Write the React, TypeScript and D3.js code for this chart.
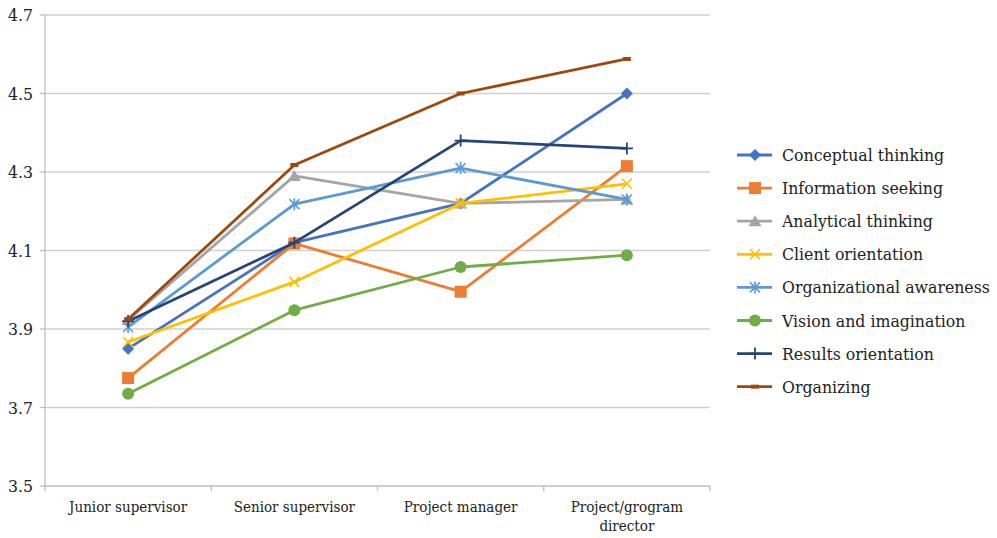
import React from "react";
import * as d3 from "d3";

const categories = ["Junior supervisor", "Senior supervisor", "Project manager", "Project/grogram director"];
const seriesNames = [
  "Conceptual thinking",
  "Information seeking",
  "Analytical thinking",
  "Client orientation",
  "Organizational awareness",
  "Vision and imagination",
  "Results orientation",
  "Organizing",
];
const conceptual = [3.85, 4.12, 4.22, 4.5];
const information = [3.775, 4.118, 3.995, 4.315];
const analytical = [3.923, 4.29, 4.22, 4.23];
const client = [3.867, 4.02, 4.22, 4.27];
const orgAwareness = [3.905, 4.218, 4.31, 4.23];
const vision = [3.735, 3.948, 4.058, 4.088];
const results = [3.92, 4.12, 4.38, 4.36];
const organizing = [3.925, 4.318, 4.5, 4.588];
const yTicks = [3.5, 3.7, 3.9, 4.1, 4.3, 4.5, 4.7];

const seriesValues = [conceptual, information, analytical, client, orgAwareness, vision, results, organizing];
const colors = ["#4472C4", "#ED7D31", "#A5A5A5", "#FFC000", "#5B9BD5", "#70AD47", "#264478", "#9E480E"];
const markers = ["diamond", "square", "triangle", "x", "star", "circle", "plus", "dash"];

function Marker({ type, x, y, color }: { type: string; x: number; y: number; color: string }) {
  const s = 5;
  switch (type) {
    case "diamond":
      return <path d={`M${x},${y - 6}L${x + 6},${y}L${x},${y + 6}L${x - 6},${y}Z`} fill={color} />;
    case "square":
      return <rect x={x - 6} y={y - 6} width={12} height={12} fill={color} />;
    case "triangle":
      return <path d={`M${x},${y - 6}L${x + 6.5},${y + 5}L${x - 6.5},${y + 5}Z`} fill={color} />;
    case "x":
      return (
        <path d={`M${x - s},${y - s}L${x + s},${y + s}M${x - s},${y + s}L${x + s},${y - s}`} stroke={color} strokeWidth={1.6} />
      );
    case "star":
      return (
        <path
          d={`M${x - s},${y - s}L${x + s},${y + s}M${x - s},${y + s}L${x + s},${y - s}M${x},${y - 6}L${x},${y + 6}`}
          stroke={color}
          strokeWidth={1.6}
        />
      );
    case "circle":
      return <circle cx={x} cy={y} r={6} fill={color} />;
    case "plus":
      return <path d={`M${x - 6},${y}L${x + 6},${y}M${x},${y - 6}L${x},${y + 6}`} stroke={color} strokeWidth={1.8} />;
    case "dash":
      return <rect x={x - 4} y={y - 2} width={8} height={4} fill={color} />;
  }
  return null;
}

const font = '"DejaVu Serif Condensed", "DejaVu Serif", serif';

export default function App() {
  const W = 997, H = 538;
  const left = 45, right = 710, top = 15, bottom = 486;
  const x = d3.scaleBand<string>().domain(categories).range([left, right]);
  const y = d3.scaleLinear().domain([3.5, 4.7]).range([bottom, top]);
  const line = d3
    .line<number>()
    .x((_, i) => (x(categories[i]) as number) + x.bandwidth() / 2)
    .y((d) => y(d));
  const bounds = [...categories.map((c) => x(c) as number), right];
  const ts = { fontFamily: font, fontStretch: "condensed" as const };

  return (
    <svg width={W} height={H} style={{ position: "absolute", left: 0, top: 0, background: "#fff", fontFamily: font }}>
      <rect width={W} height={H} fill="#fff" />
      {yTicks.map((t) => (
        <g key={t}>
          {t !== 3.5 && <line x1={left} x2={right} y1={y(t)} y2={y(t)} stroke="#d0d0d0" strokeWidth={1.3} />}
          <line x1={left - 5} x2={left} y1={y(t)} y2={y(t)} stroke="#bfbfbf" strokeWidth={1.3} />
          <text x={33} y={y(t) + 6} textAnchor="end" fontSize={17.5} fill="#222" style={ts}>
            {t.toFixed(1)}
          </text>
        </g>
      ))}
      <line x1={left} x2={left} y1={top} y2={bottom} stroke="#bfbfbf" strokeWidth={1.3} />
      <line x1={left} x2={right} y1={bottom} y2={bottom} stroke="#bfbfbf" strokeWidth={1.3} />
      {bounds.map((b, i) => (
        <line key={i} x1={b} x2={b} y1={bottom} y2={bottom + 5} stroke="#bfbfbf" strokeWidth={1.3} />
      ))}
      {categories.map((c) => {
        const cx = (x(c) as number) + x.bandwidth() / 2;
        if (c === "Project/grogram director") {
          return (
            <text key={c} x={cx} textAnchor="middle" fontSize={15} fill="#222" style={ts}>
              <tspan x={cx} y={512}>Project/grogram</tspan>
              <tspan x={cx} y={531}>director</tspan>
            </text>
          );
        }
        return (
          <text key={c} x={cx} y={512} textAnchor="middle" fontSize={15} fill="#222" style={ts}>
            {c}
          </text>
        );
      })}
      {seriesValues.map((vals, si) => (
        <g key={si}>
          <path d={line(vals) as string} fill="none" stroke={colors[si]} strokeWidth={2.8} strokeLinejoin="round" />
          {vals.map((v, i) => (
            <Marker
              key={i}
              type={markers[si]}
              x={(x(categories[i]) as number) + x.bandwidth() / 2}
              y={y(v)}
              color={colors[si]}
            />
          ))}
        </g>
      ))}
      {seriesNames.map((n, i) => {
        const ly = 155 + i * 33.1;
        return (
          <g key={n}>
            <line x1={737} x2={772} y1={ly} y2={ly} stroke={colors[i]} strokeWidth={2.8} />
            <Marker type={markers[i]} x={755} y={ly} color={colors[i]} />
            <text x={782} y={ly + 6} fontSize={17.5} fill="#222" style={ts}>
              {n}
            </text>
          </g>
        );
      })}
    </svg>
  );
}
